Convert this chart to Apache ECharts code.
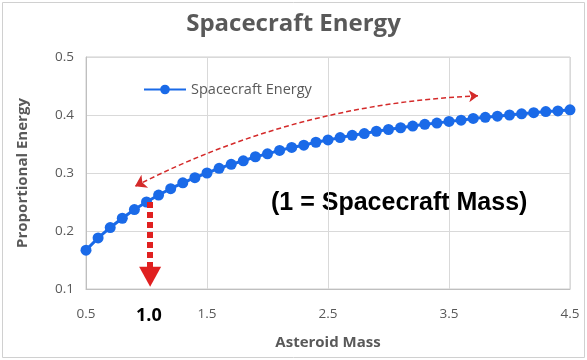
<!DOCTYPE html>
<html><head><meta charset="utf-8">
<script src="https://cdn.jsdelivr.net/npm/echarts@6/dist/echarts.min.js"></script>
<style>html,body{margin:0;padding:0;background:#fff}#c{width:587px;height:360px}</style>
</head><body><div id="c"></div>
<script>
var masses = [0.5,0.6,0.7,0.8,0.9,1.0,1.1,1.2,1.3,1.4,1.5,1.6,1.7,1.8,1.9,2.0,2.1,2.2,2.3,2.4,2.5,2.6,2.7,2.8,2.9,3.0,3.1,3.2,3.3,3.4,3.5,3.6,3.7,3.8,3.9,4.0,4.1,4.2,4.3,4.4,4.5];
var energy = [0.167,0.188,0.206,0.222,0.237,0.250,0.262,0.273,0.283,0.292,0.300,0.308,0.315,0.321,0.328,0.333,0.339,0.344,0.348,0.353,0.357,0.361,0.365,0.368,0.372,0.375,0.378,0.381,0.384,0.386,0.389,0.391,0.394,0.396,0.398,0.400,0.402,0.404,0.406,0.407,0.409];
var xTicks = [0.5,1.5,2.5,3.5,4.5];
var yTicks = [0.1,0.2,0.3,0.4,0.5];
var seriesName = 'Spacecraft Energy';
var titleText = 'Spacecraft Energy';
var xName = 'Asteroid Mass';
var yName = 'Proportional Energy';
var note = '(1 = Spacecraft Mass)';
var highlightLabel = '1.0';
var curveFrom = [3.74, 0.433];
var curveTo = [0.905, 0.277];
var dropFrom = [1.03, 0.25];
var dropTo = [1.03, 0.121];

var gray = '#595959';
var font = '"Open Sans", "Noto Sans", sans-serif';
var chart = echarts.init(document.getElementById('c'), null, {renderer:'canvas'});
chart.setOption({
  animation:false,
  backgroundColor:'#fff',
  title:{text:titleText,left:'center',top:7,textStyle:{fontFamily:font,fontWeight:'bold',fontSize:24,color:gray}},
  legend:{left:138,top:77,itemWidth:42,itemHeight:12,itemGap:4,textStyle:{fontFamily:font,fontSize:14.5,color:gray},data:[seriesName]},
  grid:{left:86,right:17,top:57,bottom:71,show:true,borderColor:'#cfcfcf',borderWidth:1},
  xAxis:{type:'value',min:xTicks[0],max:xTicks[xTicks.length-1],interval:1,
    name:xName,nameLocation:'middle',nameGap:46,nameTextStyle:{fontFamily:font,fontWeight:'bold',fontSize:15,color:gray},
    axisLine:{lineStyle:{color:'#bfbfbf'}},axisTick:{show:false},
    axisLabel:{fontFamily:font,fontSize:13.5,color:gray,margin:18,formatter:function(v){return v.toFixed(1);}},
    splitLine:{lineStyle:{color:'#d9d9d9'}}},
  yAxis:{type:'value',min:yTicks[0],max:yTicks[yTicks.length-1],interval:0.1,
    name:yName,nameLocation:'middle',nameGap:56,nameTextStyle:{fontFamily:font,fontWeight:'bold',fontSize:15,color:gray},
    axisLine:{show:true,lineStyle:{color:'#bfbfbf'}},axisTick:{show:false},
    axisLabel:{fontFamily:font,fontSize:13.5,color:gray,margin:12,formatter:function(v){return v.toFixed(1);}},
    splitLine:{lineStyle:{color:'#d9d9d9'}}},
  series:[{
    name:seriesName,type:'line',z:3,
    data:masses.map(function(m,i){return [m,energy[i]];}),
    symbol:'circle',symbolSize:11,
    lineStyle:{color:'#1a6ae8',width:3},
    itemStyle:{color:'#1a6ae8'},
    markLine:{silent:true,animation:false,label:{show:false},symbol:'none',
      lineStyle:{type:[6,4],width:6,color:'#e02020',curveness:0},
      data:[
        [{coord:dropFrom,symbol:'none'},{coord:dropTo,symbol:'triangle',symbolSize:[22,20]}]
      ]}
  },{
    name:'arrow',type:'lines',coordinateSystem:'cartesian2d',silent:true,z:4,
    symbol:['arrow','arrow'],symbolSize:[9,11],
    lineStyle:{type:[5,3],width:1.5,color:'#d42a2a',curveness:-0.11,opacity:1},
    data:[{coords:[curveFrom,curveTo]}]
  }],
  graphic:[
    {type:'rect',shape:{x:2.5,y:2.5,width:582,height:355},style:{fill:null,stroke:'#d0d0d0',lineWidth:1},silent:true,z:-1},
    {type:'text',left:271,top:191,style:{text:note,font:'bold 25px "Liberation Sans", Arial, sans-serif',fill:'#000'}},
    {type:'text',left:136,top:307,style:{text:highlightLabel,font:'bold 18px '+font,fill:'#000'}}
  ]
});
</script></body></html>
